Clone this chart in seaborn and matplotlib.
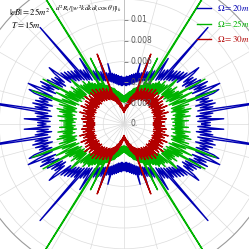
import numpy as np
import pandas as pd
import matplotlib
matplotlib.use("Agg")
import matplotlib.pyplot as plt
import matplotlib.transforms as mtransforms
import seaborn as sns

# ---- data: radius vs angle (deg) over one quadrant, 0..90 deg in 1 deg steps ----
quad_deg = list(range(0, 91))

r_omega20 = [
    .0075, .0083, .0071, .0096, .0073, .0084, .0070, .0086, .0074, .0160,
    .0072, .0087, .0075, .0090, .0071, .0088, .0076, .0085, .0073, .0091,
    .0097, .0074, .0089, .0100, .0072, .0087, .0075, .0090, .0071, .0084,
    .0085, .0069, .0082, .0067, .0080, .0070, .0083, .0090, .0065, .0078,
    .0063, .0076, .0062, .0074, .0060, .0072, .0059, .0070, .0057, .0123,
    .0055, .0067, .0054, .0065, .0052, .0063, .0076, .0051, .0060, .0049,
    .0059, .0048, .0058, .0047, .0056, .0046, .0055, .0045, .0054, .0066,
    .0044, .0052, .0043, .0051, .0042, .0060, .0041, .0050, .0040, .0049,
    .0039, .0048, .0038, .0047, .0038, .0046, .0037, .0046, .0037, .0045,
    .0038]

r_omega25 = [
    .0050, .0058, .0047, .0062, .0049, .0057, .0046, .0064, .0050, .0059,
    .0048, .0063, .0051, .0066, .0047, .0060, .0049, .0065, .0048, .0061,
    .0094, .0050, .0064, .0047, .0060, .0072, .0049, .0063, .0046, .0089,
    .0048, .0061, .0045, .0058, .0047, .0062, .0044, .0057, .0046, .0060,
    .0066, .0043, .0056, .0042, .0054, .0040, .0057, .0041, .0052, .0039,
    .0053, .0038, .0050, .0036, .0048, .0037, .0046, .0035, .0160, .0036,
    .0045, .0034, .0043, .0071, .0033, .0041, .0031, .0040, .0030, .0038,
    .0029, .0037, .0028, .0036, .0027, .0035, .0026, .0033, .0025, .0032,
    .0024, .0031, .0023, .0030, .0022, .0029, .0022, .0028, .0021, .0027,
    .0022]

r_omega30 = [
    .0031, .0036, .0028, .0039, .0030, .0035, .0029, .0041, .0031, .0037,
    .0029, .0040, .0032, .0036, .0029, .0044, .0031, .0038, .0030, .0041,
    .0032, .0037, .0029, .0045, .0031, .0039, .0030, .0042, .0033, .0038,
    .0030, .0043, .0031, .0039, .0029, .0046, .0032, .0040, .0030, .0043,
    .0031, .0038, .0029, .0044, .0032, .0040, .0030, .0045, .0031, .0039,
    .0029, .0043, .0031, .0038, .0028, .0041, .0030, .0037, .0028, .0040,
    .0027, .0036, .0028, .0038, .0026, .0034, .0025, .0036, .0024, .0072,
    .0023, .0031, .0021, .0029, .0020, .0027, .0019, .0025, .0017, .0023,
    .0016, .0021, .0015, .0019, .0014, .0017, .0013, .0016, .0012, .0014,
    .0011]

series_names = [r"$\Omega{=}20m$", r"$\Omega{=}25m$", r"$\Omega{=}30m$"]
series_colors = ["#0000b3", "#00b300", "#b30000"]

radial_ticks = [0.002, 0.004, 0.006, 0.008, 0.010, 0.012, 0.014]
label_ticks = [0.0, 0.002, 0.004, 0.006, 0.008, 0.010]
label_texts = ["0.", "0.002", "0.004", "0.006", "0.008", "0.01"]
r_max = 0.015


def full_circle(q):
    # the curve is mirror-symmetric about both axes
    return list(q) + list(q[89::-1]) + list(q[1:]) + list(q[89::-1])


full_deg = list(range(0, 361))
rows = []
for name, q in zip(series_names, [r_omega20, r_omega25, r_omega30]):
    for d, r in zip(full_deg, full_circle(q)):
        rows.append({"theta": np.deg2rad(d), "r": r, "series": name})
df = pd.DataFrame(rows)

plt.rcParams["mathtext.fontset"] = "stix"
plt.rcParams["font.family"] = ["Liberation Serif", "DejaVu Serif"]

W = 249
fig = plt.figure(figsize=(2.49, 2.49), dpi=100)
cx, cy_top = 124, 124
R = 156
ax = fig.add_axes([(cx - R) / W, (W - cy_top - R) / W, 2 * R / W, 2 * R / W],
                  projection="polar")

sns.lineplot(data=df, x="theta", y="r", hue="series", palette=series_colors,
             hue_order=series_names, sort=False, estimator=None, lw=1.0,
             ax=ax, legend=True)

ax.set_ylim(0, r_max)
ax.set_xticks(np.deg2rad(np.arange(0, 360, 15)))
ax.set_xticklabels([])
ax.set_yticks(radial_ticks)
ax.set_yticklabels([])
ax.grid(True, color="#dcdcdc", lw=0.5)
ax.spines["polar"].set_color("#9a9a9a")
ax.spines["polar"].set_linewidth(0.8)
ax.set_xlabel("")
ax.set_ylabel("")
ax.tick_params(length=0)

# vertical axis line with small ticks and labels
ax.axvline(np.pi / 2, color="#8a8a8a", lw=0.7, zorder=1)
ax.plot([np.pi / 2] * len(label_ticks[1:]), label_ticks[1:], ls="none",
        marker=1, ms=3, mew=0.6, color="#8a8a8a")
off = mtransforms.ScaledTranslation(5 / 72, 0, fig.dpi_scale_trans)
for v, t in zip(label_ticks, label_texts):
    ax.text(np.pi / 2, v, t, transform=ax.transData + off, ha="left",
            va="center", fontsize=5.5, color="#555555", family="DejaVu Sans")

# legend
handles, labels = ax.get_legend_handles_labels()
ax.get_legend().remove()
leg = fig.legend(handles, labels, loc="upper left",
                 bbox_to_anchor=(197 / W, 1 - 3 / W), frameon=False,
                 fontsize=6.5, handlelength=1.6, handletextpad=0.6,
                 labelspacing=0.55, borderpad=0, borderaxespad=0)
for txt, c in zip(leg.get_texts(), series_colors):
    txt.set_color(c)

# annotations
fig.text(9 / W, 1 - 12 / W, r"$|eB|{=}25m^2$", fontsize=6.2, va="center", ha="left")
fig.text(11 / W, 1 - 24.5 / W, r"$T{=}15m$", fontsize=6.2, va="center", ha="left")
fig.text(122 / W, 1 - 9 / W, r"$d^2R_t/[w^2kdkd(\cos\theta)]|_k$", fontsize=5.2,
         va="center", ha="right")

fig.savefig("out.png", dpi=100)
